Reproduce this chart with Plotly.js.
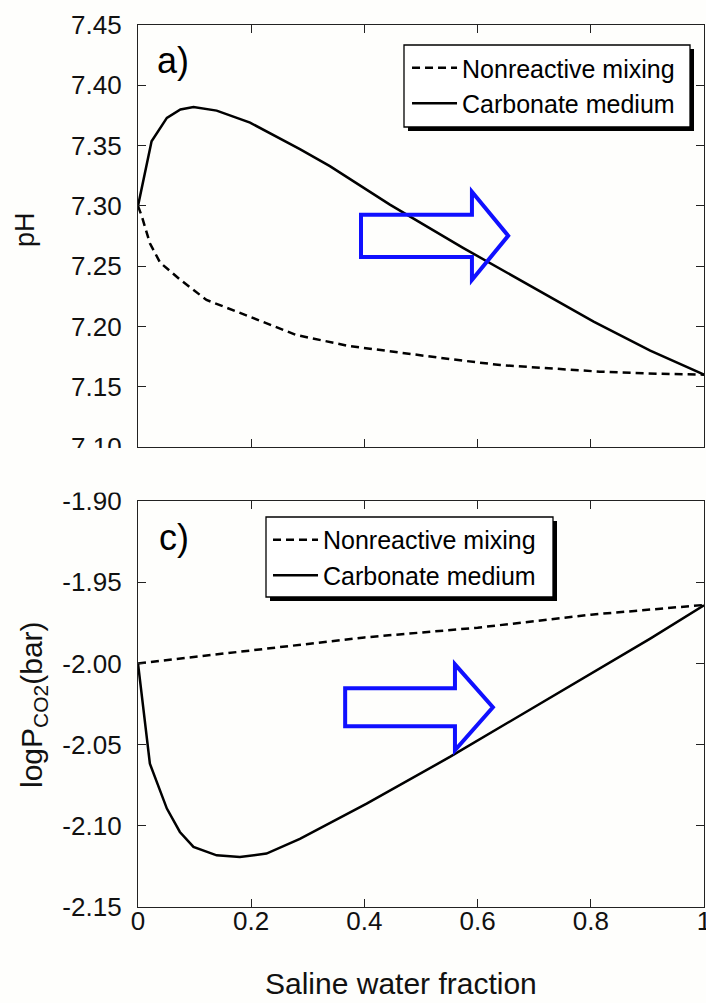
<!DOCTYPE html>
<html>
<head>
<meta charset="utf-8">
<script src="https://cdn.plot.ly/plotly-3.0.1.min.js"></script>
<style>
  html, body { margin: 0; padding: 0; background: #fefefc; }
  #chart { width: 706px; height: 1003px; }
</style>
</head>
<body>
<div id="chart"></div>
<script>
// ---- Data ----
const seriesNames = ["Nonreactive mixing", "Carbonate medium"];

// Panel a) pH vs saline water fraction
const phMixX  = [0, 0.007, 0.021, 0.039, 0.074, 0.121, 0.198, 0.279, 0.37, 0.463, 0.55, 0.64, 0.73, 0.816, 0.9, 1.0];
const phMixY  = [7.300, 7.291, 7.269, 7.253, 7.239, 7.222, 7.208, 7.193, 7.184, 7.178, 7.173, 7.168, 7.165, 7.1625, 7.161, 7.160];
const phCarbX = [0, 0.024, 0.051, 0.075, 0.098, 0.139, 0.198, 0.286, 0.339, 0.445, 0.575, 0.654, 0.728, 0.805, 0.905, 1.0];
const phCarbY = [7.300, 7.3535, 7.373, 7.380, 7.382, 7.379, 7.369, 7.347, 7.333, 7.301, 7.265, 7.244, 7.225, 7.204, 7.180, 7.160];

// Panel c) logPCO2 vs saline water fraction
const co2MixX  = [0, 0.1, 0.2, 0.3, 0.4, 0.5, 0.6, 0.7, 0.8, 0.9, 1.0];
const co2MixY  = [-2.000, -1.996, -1.992, -1.988, -1.984, -1.981, -1.978, -1.974, -1.970, -1.967, -1.964];
const co2CarbX = [0, 0.021, 0.051, 0.074, 0.098, 0.139, 0.18, 0.227, 0.286, 0.404, 0.551, 0.640, 0.799, 0.905, 1.0];
const co2CarbY = [-2.000, -2.0617, -2.0894, -2.1038, -2.113, -2.1182, -2.1192, -2.1171, -2.108, -2.0863, -2.0576, -2.0392, -2.0063, -1.9847, -1.9642];

// Tick labels
const xTickVals = [0, 0.2, 0.4, 0.6, 0.8, 1];
const xTickText = ["0", "0.2", "0.4", "0.6", "0.8", "1"];
const phTickVals = [7.10, 7.15, 7.20, 7.25, 7.30, 7.35, 7.40, 7.45];
const phTickText = ["7.10", "7.15", "7.20", "7.25", "7.30", "7.35", "7.40", "7.45"];
const co2TickVals = [-2.15, -2.10, -2.05, -2.00, -1.95, -1.90];
const co2TickText = ["-2.15", "-2.10", "-2.05", "-2.00", "-1.95", "-1.90"];

// ---- Styles ----
const FONT = "Liberation Sans, Arial, sans-serif";
const BG = "#fefefc";
const dashStyle = {color: "#000", width: 2.5, dash: "8px,5px"};
const solidStyle = {color: "#000", width: 2.5, dash: "solid"};

const traces = [
  {x: phMixX, y: phMixY, xaxis: "x", yaxis: "y", mode: "lines", name: seriesNames[0], line: dashStyle, legend: "legend"},
  {x: phCarbX, y: phCarbY, xaxis: "x", yaxis: "y", mode: "lines", name: seriesNames[1], line: solidStyle, legend: "legend"},
  {x: co2MixX, y: co2MixY, xaxis: "x2", yaxis: "y2", mode: "lines", name: seriesNames[0], line: dashStyle, legend: "legend2"},
  {x: co2CarbX, y: co2CarbY, xaxis: "x2", yaxis: "y2", mode: "lines", name: seriesNames[1], line: solidStyle, legend: "legend2"}
];

const axisCommon = {
  showline: true, linecolor: "#222", linewidth: 1.2, mirror: "ticks",
  ticks: "inside", ticklen: 8, tickwidth: 1, tickcolor: "#222",
  showgrid: false, zeroline: false, ticklabeloverflow: "allow",
  tickfont: {family: FONT, size: 26, color: "#111"}
};

const legendCommon = {
  bgcolor: "rgba(0,0,0,0)", borderwidth: 0,
  font: {family: FONT, size: 25, color: "#000"},
  xanchor: "left", yanchor: "top", tracegroupgap: 0, itemwidth: 45,
  traceorder: "normal"
};

// legend box frame + drop shadow (decoration, paper coordinates)
function legendFrame(x0, x1, y0, y1, dx, dy) {
  return [
    {type: "rect", xref: "paper", yref: "paper", x0: x0 + dx, x1: x1 + dx, y0: y0 - dy, y1: y1 - dy,
     fillcolor: "#000", line: {width: 0}, layer: "above"},
    {type: "rect", xref: "paper", yref: "paper", x0: x0, x1: x1, y0: y0, y1: y1,
     fillcolor: "#ffffff", line: {color: "#000", width: 1.3}, layer: "above"}
  ];
}

const blue = "#1010ff";
const layout = {
  width: 706, height: 1003,
  margin: {l: 138, r: 2, t: 25, b: 96},
  paper_bgcolor: BG, plot_bgcolor: BG,
  showlegend: true,
  xaxis: Object.assign({}, axisCommon, {domain: [0, 1], range: [0, 1], anchor: "y",
    tickmode: "array", tickvals: xTickVals, ticktext: xTickText, showticklabels: false}),
  yaxis: Object.assign({}, axisCommon, {domain: [0.5215, 1], range: [7.10, 7.45], anchor: "x",
    tickmode: "array", tickvals: phTickVals, ticktext: phTickText, ticklabelstandoff: 10}),
  xaxis2: Object.assign({}, axisCommon, {domain: [0, 1], range: [0, 1], anchor: "y2",
    tickmode: "array", tickvals: xTickVals, ticktext: xTickText, ticklabelstandoff: -9}),
  yaxis2: Object.assign({}, axisCommon, {domain: [0, 0.4603], range: [-2.15, -1.90], anchor: "x2",
    tickmode: "array", tickvals: co2TickVals, ticktext: co2TickText, ticklabelstandoff: 10}),
  legend: Object.assign({}, legendCommon, {x: 0.4753, y: 0.9773}),
  legend2: Object.assign({}, legendCommon, {x: 0.2297, y: 0.4422}),
  shapes: [
    // cover lower half of clipped "7.10" label
    {type: "rect", xref: "paper", yref: "paper", x0: -0.26, x1: -0.004, y0: 0.47, y1: 0.5205,
     fillcolor: BG, line: {width: 0}, layer: "above"},
    ...legendFrame(0.46996, 0.97527, 0.88435, 0.97732, 0.00707, 0.00454),
    ...legendFrame(0.22615, 0.73322, 0.35147, 0.44218, 0.00707, 0.00454),
    // blue arrows
    {type: "path", xref: "x", yref: "y", layer: "above",
     path: "M0.394,7.2926 L0.590,7.2926 L0.590,7.3117 L0.654,7.2752 L0.590,7.2386 L0.590,7.2577 L0.394,7.2577 Z",
     line: {color: blue, width: 4}, fillcolor: "rgba(0,0,0,0)"},
    {type: "path", xref: "x2", yref: "y2", layer: "above",
     path: "M0.366,-2.0153 L0.560,-2.0153 L0.560,-2.0006 L0.627,-2.0270 L0.560,-2.0535 L0.560,-2.0387 L0.366,-2.0387 Z",
     line: {color: blue, width: 4}, fillcolor: "rgba(0,0,0,0)"}
  ],
  annotations: [
    {text: "a)", xref: "paper", yref: "paper", x: 0.030, y: 0.9603, xanchor: "left", yanchor: "middle",
     showarrow: false, font: {family: FONT, size: 36, color: "#000"}},
    {text: "c)", xref: "paper", yref: "paper", x: 0.033, y: 0.4195, xanchor: "left", yanchor: "middle",
     showarrow: false, font: {family: FONT, size: 36, color: "#000"}},
    {text: "Saline water fraction", xref: "paper", yref: "paper", x: 0.4647, y: -0.0873,
     xanchor: "center", yanchor: "middle", showarrow: false, font: {family: FONT, size: 30, color: "#111"}},
    {text: "pH", xref: "paper", yref: "paper", x: -0.1995, y: 0.7676, textangle: -90,
     xanchor: "center", yanchor: "middle", showarrow: false, font: {family: FONT, size: 27, color: "#111"}},
    {text: "logP<sub>CO2</sub>(bar)", xref: "paper", yref: "paper", x: -0.1855, y: 0.229, textangle: -90,
     xanchor: "center", yanchor: "middle", showarrow: false, font: {family: FONT, size: 30, color: "#111"}}
  ]
};

Plotly.newPlot("chart", traces, layout, {displayModeBar: false, staticPlot: true});
</script>
</body>
</html>
